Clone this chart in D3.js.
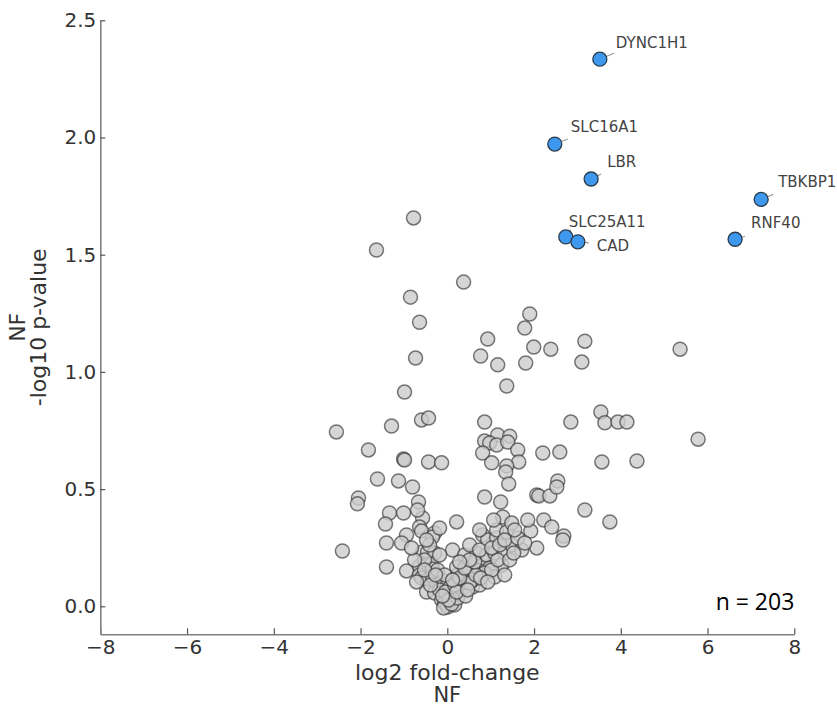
<!DOCTYPE html>
<html>
<head>
<meta charset="utf-8">
<script src="https://cdn.jsdelivr.net/npm/d3@7"></script>
<style>
  html, body { margin: 0; padding: 0; background: #fff; }
  svg { display: block; }
</style>
</head>
<body>
<div id="chart"></div>
<script>
// ---------------- DATA ----------------
const hiGenes = ["DYNC1H1", "SLC16A1", "LBR", "TBKBP1", "RNF40", "SLC25A11", "CAD"];
const hiFC    = [3.517, 2.478, 3.316, 7.236, 6.635, 2.732, 3.010];
const hiLogP  = [2.334, 1.972, 1.823, 1.736, 1.566, 1.576, 1.555];

const greyFC = [
  -0.778,-1.633,0.376,-0.848,-0.640,1.901,1.785,0.931,3.171,-0.732,
  1.993,2.386,0.769,1.808,1.162,3.102,1.370,5.367,5.782,-0.986,
  -2.557,-1.818,-1.286,-1.009,-0.986,-0.594,-0.432,-0.432,-0.132,-1.610,
  -1.125,-0.801,-2.048,-2.072,-0.663,-1.333,-1.009,-1.425,-2.418,-1.402,
  -0.940,-0.570,-0.640,-0.594,-0.293,-0.339,-0.940,-1.055,-1.402,0.215,
  -0.570,-0.455,-0.293,-0.640,-0.363,-0.339,-0.640,-0.594,-0.455,-0.339,
  -0.709,-0.247,-0.478,-0.293,-0.109,0.007,-0.016,-0.132,-0.062,0.007,
  0.099,0.169,0.284,0.353,0.446,0.238,0.584,0.746,0.215,0.446,
  0.700,0.908,0.561,0.815,0.122,0.400,0.677,0.908,1.092,1.323,
  0.515,0.815,0.931,1.139,1.485,1.716,2.062,1.139,1.370,1.277,
  1.485,0.861,1.231,1.924,2.224,2.409,2.686,2.663,2.062,2.109,
  2.363,2.547,2.524,3.171,3.748,0.861,0.861,1.162,1.439,0.977,
  1.139,1.393,1.624,0.815,1.023,1.647,1.370,1.346,1.416,2.201,
  2.594,2.848,3.540,3.633,3.933,4.141,3.564,4.372,1.254,0.977,
  1.092,0.861,0.584,-0.178,0.053,0.169,-0.085,0.099,0.238,0.330,
  0.515,0.423,0.654,0.769,1.023,1.162,1.439,1.531,-0.409,-0.178,
  -0.525,-0.224,-0.062,0.053,-0.039,0.169,0.284,0.400,0.631,0.746,
  1.023,1.208,1.323,1.624,1.785,1.554,0.746,0.515,0.284,0.030,
  -0.109,0.215,0.469,-0.386,-0.525,-0.755,-0.825,-0.478,-0.178,-0.686,
  1.069,1.855,1.323,0.931,-0.270,0.122
];
const greyLogP = [
  1.657,1.520,1.383,1.319,1.212,1.247,1.187,1.140,1.131,1.059,
  1.106,1.097,1.068,1.038,1.030,1.042,0.940,1.097,0.713,0.914,
  0.744,0.667,0.769,0.628,0.624,0.795,0.803,0.616,0.612,0.543,
  0.535,0.509,0.462,0.437,0.445,0.398,0.398,0.351,0.236,0.168,
  0.151,0.377,0.338,0.321,0.313,0.296,0.304,0.270,0.270,0.360,
  0.232,0.232,0.227,0.172,0.180,0.159,0.134,0.121,0.112,0.125,
  0.104,0.091,0.061,0.057,0.112,0.091,0.040,0.027,0.014,-0.003,
  0.027,0.048,0.070,0.099,0.125,0.134,0.082,0.091,0.168,0.155,
  0.168,0.168,0.198,0.206,0.240,0.219,0.227,0.219,0.227,0.227,
  0.262,0.304,0.283,0.291,0.262,0.240,0.249,0.326,0.317,0.381,
  0.355,0.466,0.445,0.321,0.368,0.338,0.300,0.283,0.475,0.471,
  0.471,0.535,0.509,0.411,0.360,0.786,0.705,0.731,0.726,0.697,
  0.688,0.701,0.667,0.654,0.612,0.616,0.599,0.573,0.522,0.654,
  0.658,0.786,0.829,0.783,0.786,0.786,0.616,0.620,0.176,0.163,
  0.125,0.142,0.112,0.070,0.048,0.006,-0.007,0.010,0.035,0.078,
  0.099,0.044,0.134,0.121,0.155,0.198,0.198,0.227,0.261,0.219,
  0.198,0.155,0.134,0.078,0.061,0.091,0.121,0.163,0.189,0.240,
  0.249,0.262,0.283,0.291,0.270,0.326,0.326,0.198,0.189,0.027,
  0.044,0.061,0.070,0.091,0.155,0.198,0.249,0.283,0.334,0.411,
  0.368,0.368,0.134,0.104,0.134,0.112
];

const xTicks = [-8, -6, -4, -2, 0, 2, 4, 6, 8];
const yTicks = [0, 0.5, 1, 1.5, 2, 2.5];
const xTitle = "log2 fold-change";
const yTitle = "-log10 p-value";
const condition = "NF";
const countLabel = "n = " + (greyFC.length + hiFC.length);

// ---------------- LAYOUT ----------------
const W = 837, H = 709;
const plot = { left: 100.3, right: 794.3, top: 20.3, bottom: 634.3 };
const R = 7;
// label placement (layout only)
const labelLayout = {
  DYNC1H1:  { dx: 16, dy: -11, ex: 14, ey: -6 },
  SLC16A1:  { dx: 16, dy: -12, ex: 13, ey: -5 },
  LBR:      { dx: 16, dy: -12, ex: 10, ey: -5 },
  TBKBP1:   { dx: 17, dy: -12, ex: 12, ey: -5 },
  RNF40:    { dx: 16, dy: -11, ex: 10, ey: -3 },
  SLC25A11: { dx: 3,  dy: -10, ex: 5,  ey: -7 },
  CAD:      { dx: 19, dy: 9,   ex: 11, ey: 1 }
};

const svg = d3.select("#chart").append("svg")
  .attr("width", W).attr("height", H);

const x = d3.scaleLinear().domain([-8, 8]).range([plot.left, plot.right]);
const yMin = -(plot.bottom - 606.3) / 234.4;
const y = d3.scaleLinear().domain([yMin, 2.5]).range([plot.bottom, plot.top]);

// axes
const xAxis = d3.axisBottom(x).tickValues(xTicks).tickSizeInner(-6).tickSizeOuter(0).tickPadding(5);
const yAxis = d3.axisLeft(y).tickValues(yTicks).tickSizeInner(-5).tickSizeOuter(0)
  .tickPadding(4).tickFormat(d3.format(".1f"));

const gx = svg.append("g").attr("transform", `translate(0,${plot.bottom})`).call(xAxis);
const gy = svg.append("g").attr("transform", `translate(${plot.left},0)`).call(yAxis);

[gx, gy].forEach(g => {
  g.select(".domain").attr("stroke", "#808080").attr("stroke-width", 1.6);
  g.selectAll(".tick line").attr("stroke", "#555").attr("stroke-width", 1.2);
  g.selectAll(".tick text").attr("fill", "#333")
    .style("font-family", "'DejaVu Sans', Verdana, sans-serif").style("font-size", "20px");
});
gx.selectAll(".tick text").attr("dy", "0.71em").attr("y", 6);

// titles
const titleFont = "'DejaVu Sans', Verdana, sans-serif";
svg.append("text").attr("x", (plot.left + plot.right) / 2).attr("y", 680)
  .attr("text-anchor", "middle").attr("fill", "#333")
  .style("font-family", titleFont).style("font-size", "22px").text(xTitle);
svg.append("text").attr("x", (plot.left + plot.right) / 2).attr("y", 702)
  .attr("text-anchor", "middle").attr("fill", "#333")
  .style("font-family", titleFont).style("font-size", "21px").text(condition);

const yc = (plot.top + plot.bottom) / 2;
svg.append("text").attr("transform", `translate(25,${yc}) rotate(-90)`)
  .attr("text-anchor", "middle").attr("fill", "#333")
  .style("font-family", titleFont).style("font-size", "22px").text(condition);
svg.append("text").attr("transform", `translate(46,${yc}) rotate(-90)`)
  .attr("text-anchor", "middle").attr("fill", "#333")
  .style("font-family", titleFont).style("font-size", "22px").text(yTitle);

// n label
svg.append("text").attr("x", plot.right).attr("y", 610)
  .attr("text-anchor", "end").attr("fill", "#000")
  .style("font-family", "'Open Sans', sans-serif").style("font-size", "23px").text(countLabel);

// grey points
const greyData = greyFC.map((fc, i) => ({ fc, lp: greyLogP[i] }));
svg.append("g").selectAll("circle").data(greyData).join("circle")
  .attr("cx", d => x(d.fc)).attr("cy", d => y(d.lp)).attr("r", R)
  .attr("fill", "#cccccc").attr("fill-opacity", 0.8)
  .attr("stroke", "#333").attr("stroke-opacity", 0.65).attr("stroke-width", 1.5);

// highlighted points
const hiData = hiGenes.map((g, i) => ({ g, fc: hiFC[i], lp: hiLogP[i] }));
const gl = svg.append("g");
hiData.forEach(d => {
  const L = labelLayout[d.g];
  const px = x(d.fc), py = y(d.lp);
  const len = Math.hypot(L.ex, L.ey);
  gl.append("line")
    .attr("x1", px + L.ex / len * R).attr("y1", py + L.ey / len * R)
    .attr("x2", px + L.ex).attr("y2", py + L.ey)
    .attr("stroke", "#999").attr("stroke-width", 1.2);
});
gl.selectAll("circle").data(hiData).join("circle")
  .attr("cx", d => x(d.fc)).attr("cy", d => y(d.lp)).attr("r", R)
  .attr("fill", "#3d98ee").attr("stroke", "#2a3a4a").attr("stroke-width", 1.3);
gl.selectAll("text").data(hiData).join("text")
  .attr("x", d => x(d.fc) + labelLayout[d.g].dx)
  .attr("y", d => y(d.lp) + labelLayout[d.g].dy)
  .attr("fill", "#444")
  .style("font-family", "'DejaVu Sans', Verdana, sans-serif").style("font-size", "15px")
  .text(d => d.g);
</script>
</body>
</html>
